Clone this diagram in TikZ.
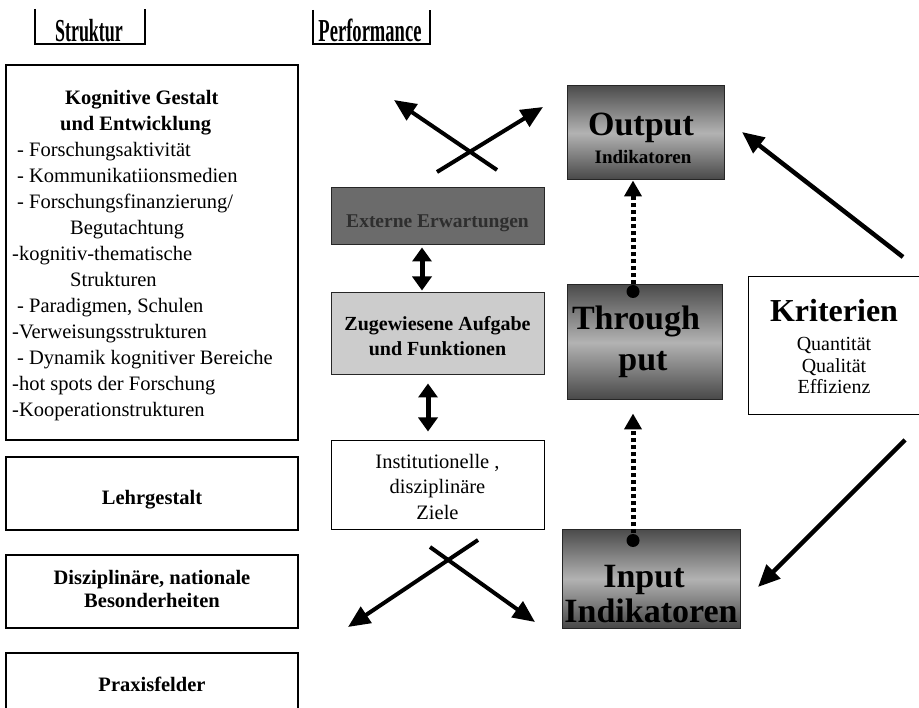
\documentclass[tikz,border=0pt]{standalone}
\usepackage{fontspec}
\usepackage{graphicx}
\setmainfont{Liberation Serif}
\usetikzlibrary{arrows.meta,calc}
\begin{document}
\begin{tikzpicture}[x=1pt,y=-1pt,
  plainbox/.style={draw=black, line width=1.3pt, inner sep=0pt},
  graybox/.style={draw=black!85, line width=1pt, inner sep=0pt},
  txt/.style={inner sep=0pt, anchor=base},
  fatarrow/.style={line width=4pt, -{Triangle[length=22pt,width=19pt]}},
  dblarrow/.style={line width=5pt, {Triangle[length=14pt,width=19pt]}-{Triangle[length=14pt,width=19pt]}},
  dotarrow/.style={line width=5pt, dash pattern=on 4pt off 3pt, -{Triangle[length=16pt,width=17pt]}},
  shadedark/.style={top color=black!70, bottom color=black!72, middle color=black!30},
]
\useasboundingbox (0,0) rectangle (919,708);

% ---- headers
\node[txt, font=\fontsize{32}{32}\selectfont\bfseries] (hstr) at (89,42) {\scalebox{0.56}[1]{Struktur}};
\draw[line width=1.2pt] (35,9) -- (35,44) -- (145,44) -- (145,9);
\node[txt, font=\fontsize{32}{32}\selectfont\bfseries] (hperf) at (370,42) {\scalebox{0.58}[1]{Performance}};
\draw[line width=1.2pt] (313,10) -- (313,44) -- (430,44) -- (430,10);

% ---- left column
\node[plainbox, minimum width=292pt, minimum height=375pt] (kog) at (152,252.5) {};
\node[inner sep=0pt, anchor=north west, align=left, font=\fontsize{20.5}{26}\selectfont] (kogtxt) at (0,90) {%
\hspace*{65pt}\textbf{Kognitive Gestalt}\\
\hspace*{60pt}\textbf{und Entwicklung}\\
\hspace*{17pt}- Forschungsaktivität\\
\hspace*{17pt}- Kommunikatiionsmedien\\
\hspace*{17pt}- Forschungsfinanzierung/\\
\hspace*{70pt}Begutachtung\\
\hspace*{12pt}-kognitiv-thematische\\
\hspace*{70pt}Strukturen\\
\hspace*{17pt}- Paradigmen, Schulen\\
\hspace*{12pt}-Verweisungsstrukturen\\
\hspace*{17pt}- Dynamik kognitiver Bereiche\\
\hspace*{12pt}-hot spots der Forschung\\
\hspace*{12pt}-Kooperationstrukturen};

\node[plainbox, minimum width=292pt, minimum height=73pt] (lehr) at (152,493.5) {};
\node[txt, font=\fontsize{20.5}{20.5}\selectfont\bfseries] (lehrt) at (152,505) {Lehrgestalt};

\node[plainbox, minimum width=292pt, minimum height=73pt] (disz) at (152,591.5) {};
\node[txt, font=\fontsize{20.5}{20.5}\selectfont\bfseries] (diszt1) at (152,584) {Disziplinäre, nationale};
\node[txt, font=\fontsize{20.5}{20.5}\selectfont\bfseries] (diszt2) at (152,607) {Besonderheiten};

\node[plainbox, minimum width=292pt, minimum height=70pt] (prax) at (152,688) {};
\node[txt, font=\fontsize{20.5}{20.5}\selectfont\bfseries] (praxt) at (152,691) {Praxisfelder};

% ---- middle column
\node[graybox, fill=black!58, minimum width=213pt, minimum height=57pt] (ext) at (437.5,216.5) {};
\node[txt, font=\fontsize{19.5}{19.5}\selectfont\bfseries, text=black!82] (extt) at (437.5,228) {Externe Erwartungen};

\node[graybox, fill=black!20, minimum width=213pt, minimum height=82pt] (zug) at (437.5,334) {};
\node[txt, font=\fontsize{20}{20}\selectfont\bfseries] (zugt1) at (437.5,331) {Zugewiesene Aufgabe};
\node[txt, font=\fontsize{20}{20}\selectfont\bfseries] (zugt2) at (437.5,356) {und Funktionen};

\node[plainbox, line width=1pt, minimum width=213pt, minimum height=89pt] (ins) at (437.5,485.5) {};
\node[txt, font=\fontsize{20.5}{20.5}\selectfont] (inst1) at (437.5,469) {Institutionelle ,};
\node[txt, font=\fontsize{20.5}{20.5}\selectfont] (inst2) at (437.5,494) {disziplinäre};
\node[txt, font=\fontsize{20.5}{20.5}\selectfont] (inst3) at (437.5,519) {Ziele};

% ---- performance column
\node[graybox, shadedark, minimum width=157pt, minimum height=94pt] (out) at (645.5,133) {};
\node[txt, font=\fontsize{34}{34}\selectfont\bfseries] (outt1) at (641,136) {Output};
\node[txt, font=\fontsize{19}{19}\selectfont\bfseries] (outt2) at (643,164) {Indikatoren};

\node[graybox, shadedark, minimum width=155pt, minimum height=115pt] (thr) at (644.5,342.5) {};
\node[txt, font=\fontsize{34}{34}\selectfont\bfseries] (thrt1) at (636,330) {Through};
\node[txt, font=\fontsize{34}{34}\selectfont\bfseries] (thrt2) at (643,371) {put};

\node[graybox, shadedark, minimum width=178pt, minimum height=98pt] (inp) at (651,579) {};
\node[txt, font=\fontsize{34}{34}\selectfont\bfseries] (inpt1) at (644,587) {Input};
\node[txt, font=\fontsize{34}{34}\selectfont\bfseries] (inpt2) at (651,622) {Indikatoren};

% ---- criteria
\node[plainbox, line width=1pt, minimum width=172pt, minimum height=138pt] (krit) at (834,346) {};
\node[txt, font=\fontsize{32}{32}\selectfont\bfseries] (kritt) at (834,322) {Kriterien};
\node[txt, font=\fontsize{20}{20}\selectfont] (krit1) at (834,351) {Quantität};
\node[txt, font=\fontsize{20}{20}\selectfont] (krit2) at (834,373) {Qualität};
\node[txt, font=\fontsize{20}{20}\selectfont] (krit3) at (834,394) {Effizienz};

% ---- dotted arrows with start dots
\coordinate (t1) at ($(thr.north)+(-11.5,7)$);
\coordinate (o1) at (t1 |- out.south);
\fill (t1) circle (6.5pt);
\draw[dotarrow] (t1) -- (o1);

\coordinate (t2) at ($(inp.north)+(-18,11)$);
\coordinate (thrb) at ($(t2 |- thr.south)+(0,13)$);
\fill (t2) circle (6.5pt);
\draw[dotarrow] (t2) -- (thrb);

% ---- double arrows
\coordinate (e1) at ($(ext.south)+(-15.5,2)$);
\coordinate (z1) at ($(zug.north)+(-15.5,-2)$);
\draw[dblarrow] (e1) -- (z1);
\coordinate (z2) at ($(zug.south)+(-9.5,8)$);
\coordinate (i2) at ($(ins.north)+(-9.5,-9)$);
\draw[dblarrow] (z2) -- (i2);

% ---- crossing arrows (top)
\coordinate (ca1) at (437,172);
\coordinate (ca2) at (543,107);
\coordinate (cb1) at (497,170);
\coordinate (cb2) at (394,100);
\draw[fatarrow] (ca1) -- (ca2);
\draw[fatarrow] (cb1) -- (cb2);

% ---- crossing arrows (bottom)
\coordinate (cc1) at (478,540);
\coordinate (cc2) at (348,627);
\coordinate (cd1) at (430,547);
\coordinate (cd2) at (535,622);
\draw[fatarrow] (cc1) -- (cc2);
\draw[fatarrow] (cd1) -- (cd2);

% ---- criteria arrows
\coordinate (k1) at (903,257);
\coordinate (k1e) at (742,132);
\coordinate (k2) at (905,440);
\coordinate (k2e) at (758,587);
\draw[fatarrow, line width=4.5pt] (k1) -- (k1e);
\draw[fatarrow, line width=4.5pt] (k2) -- (k2e);
\end{tikzpicture}
\end{document}
